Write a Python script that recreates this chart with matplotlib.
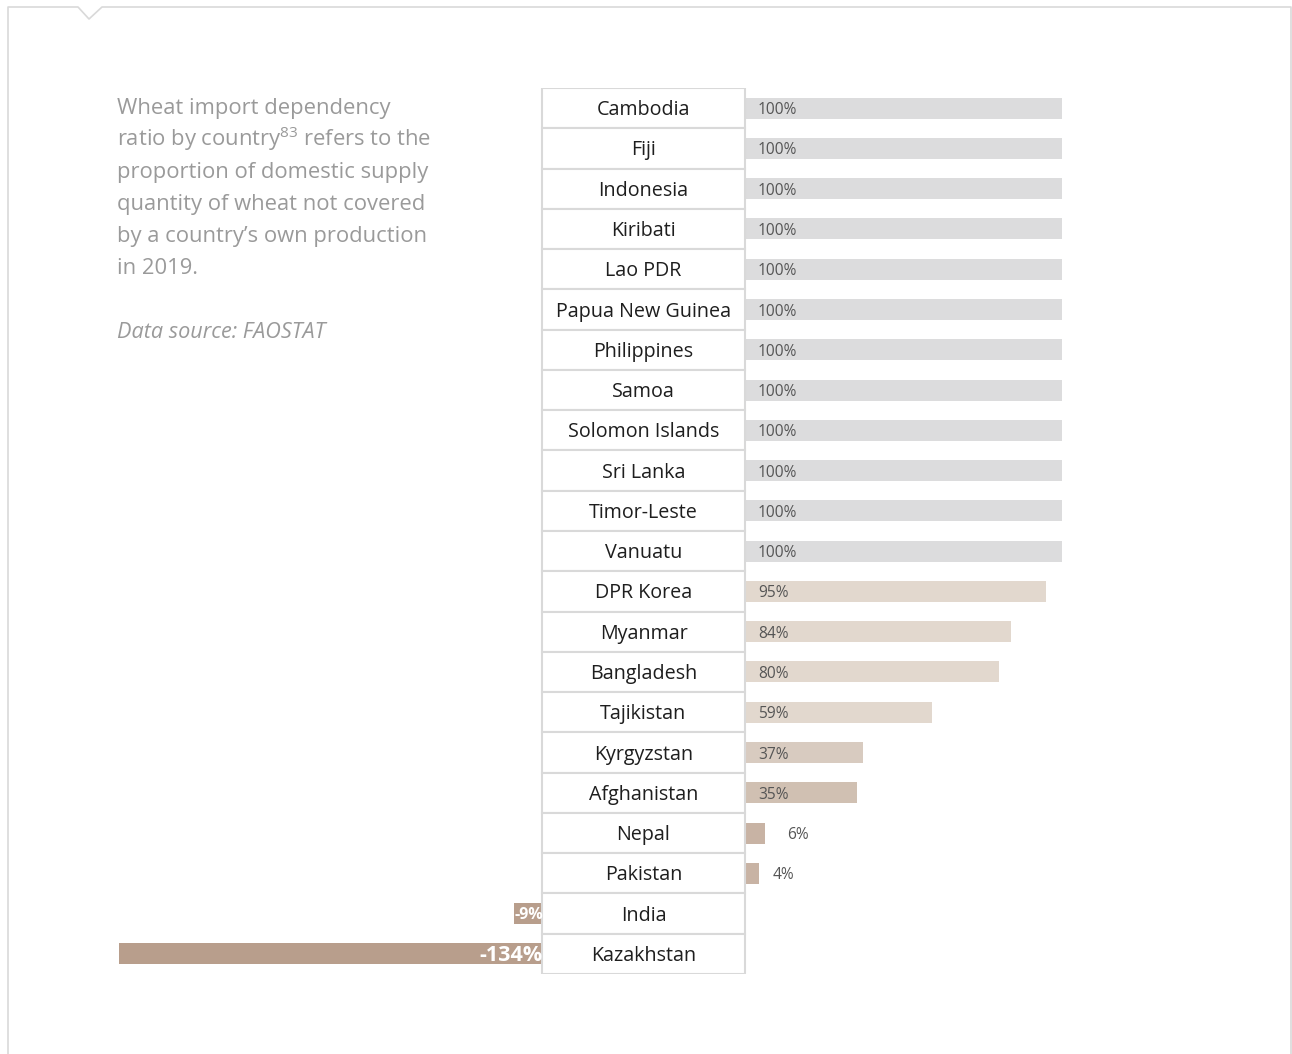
import matplotlib
matplotlib.use("Agg")
import matplotlib.pyplot as plt
from matplotlib.patches import Rectangle
from matplotlib.lines import Line2D

plt.rcParams['font.family'] = ['Open Sans', 'DejaVu Sans']
plt.rcParams['mathtext.fontset'] = 'custom'
plt.rcParams['mathtext.rm'] = 'Open Sans'

# データ
countries = ["Cambodia", "Fiji", "Indonesia", "Kiribati", "Lao PDR",
             "Papua New Guinea", "Philippines", "Samoa", "Solomon Islands",
             "Sri Lanka", "Timor-Leste", "Vanuatu", "DPR Korea", "Myanmar",
             "Bangladesh", "Tajikistan", "Kyrgyzstan", "Afghanistan", "Nepal",
             "Pakistan", "India", "Kazakhstan"]
ratio = [100, 100, 100, 100, 100, 100, 100, 100, 100, 100, 100, 100,
         95, 84, 80, 59, 37, 35, 6, 4, -9, -134]

# 色
bar_colors = ["#dcdcdd"] * 12 + ["#e2d8ce"] * 4 + ["#d8cbc0", "#d0c0b2",
              "#c8b3a4", "#c8b3a4", "#b89e8c", "#b89e8c"]

W, H = 1292, 1054
fig = plt.figure(figsize=(W / 100, H / 100), dpi=100)

# 1% = 3.16px, 正の棒は745px、負の棒は542pxから
px = 3.16
x0 = 745
gap = (x0 - 542) / px
ax = fig.add_axes([0, 1 - 974 / H, 1, 886 / H])
ax.set_xlim(-x0 / px, (W - x0) / px)
ax.set_ylim(len(countries) - 0.5, -0.5)
ax.axis("off")

for i, (name, v) in enumerate(zip(countries, ratio)):
    # 国名のセル
    ax.add_patch(Rectangle((-gap, i - 0.5), gap, 1, facecolor="white",
                           edgecolor="#d9d9d9", lw=1.5, zorder=2))
    ax.text(-gap / 2, i + 0.05, name, ha="center", va="center", fontsize=14.2,
            color="#1e1e1e", zorder=3)
    if v >= 0:
        ax.barh(i, v, left=0.3, height=0.52, color=bar_colors[i], zorder=1)
        if v >= 10:
            ax.text(4.1, i + 0.05, f"{v}%", ha="left", va="center",
                    fontsize=11.2, color="#555555")
        else:
            ax.text(2.2 * v, i + 0.05, f"{v}%", ha="left", va="center",
                    fontsize=11.2, color="#555555")
    else:
        ax.barh(i, v, left=-gap, height=0.52, color=bar_colors[i], zorder=1)
        fs = 15.5 if v < -50 else 11.5
        ax.text(-gap + 0.3, i + 0.04, f"{v}%", ha="right", va="center",
                fontsize=fs, fontweight="bold", color="white", zorder=3)

# 説明文
desc = ["Wheat import dependency",
        r"ratio by country$^{83}$ refers to the",
        "proportion of domestic supply",
        "quantity of wheat not covered",
        "by a country\u2019s own production",
        "in 2019."]
for k, line in enumerate(desc):
    fig.text(117 / W, 1 - (114 + 32 * k) / H, line, ha="left", va="baseline",
             fontsize=15.8, color="#9a9a9a")
fig.text(117 / W, 1 - 338 / H, "Data source: FAOSTAT", ha="left",
         va="baseline", fontsize=15.6, style="italic", color="#9a9a9a")

# 枠
fx = [8, 8, 78, 89, 102, 1291, 1291]
fy = [H + 5, 7, 7, 19, 7, 7, H + 5]
fig.add_artist(Line2D([x / W for x in fx], [1 - y / H for y in fy],
                      color="#d9d9d9", lw=1.2, transform=fig.transFigure))

fig.savefig("out.png", dpi=100, facecolor="white")
